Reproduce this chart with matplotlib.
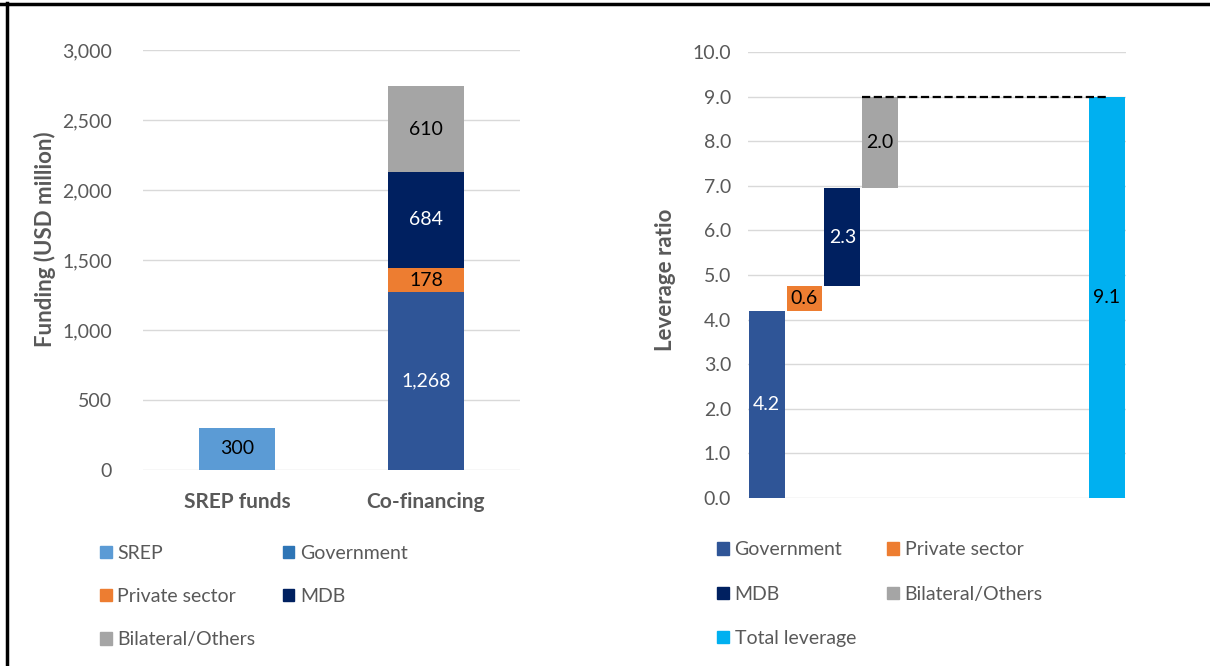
import matplotlib
matplotlib.use("Agg")
import matplotlib.pyplot as plt
from matplotlib.lines import Line2D
from matplotlib.patches import Patch

plt.rcParams['font.family'] = ['Lato', 'DejaVu Sans']

# left chart: funding (USD million)
categories = ["SREP funds", "Co-financing"]
srep = [300, 0]
government = [0, 1268]
private = [0, 178]
mdb = [0, 684]
bilateral = [0, 610]

# right chart: leverage ratio (heights as drawn, labels as printed)
lev_names = ["Government", "Private sector", "MDB", "Bilateral/Others", "Total leverage"]
lev_pos = [0, 1, 2, 3, 9]
lev_heights = [4.2, 0.55, 2.2, 2.05, 9.0]
lev_labels = ["4.2", "0.6", "2.3", "2.0", "9.1"]

c_srep = "#5B9BD5"
c_gov = "#2F5597"
c_priv = "#ED7D31"
c_mdb = "#002060"
c_bil = "#A5A5A5"
c_tot = "#00B0F0"
grey = "#595959"
grid = "#D9D9D9"

fig = plt.figure(figsize=(12.1, 6.66), dpi=100)

# ---- left panel
ax1 = fig.add_axes([0.118, 0.2943, 0.312, 0.6306])
x = [0, 1]
w = 0.4
ax1.bar(x, srep, w, color=c_srep, zorder=3)
b = [0, 0]
ax1.bar(x, government, w, bottom=b, color=c_gov, zorder=3)
b = [b[i] + government[i] for i in range(2)]
ax1.bar(x, private, w, bottom=b, color=c_priv, zorder=3)
b2 = [b[i] + private[i] for i in range(2)]
ax1.bar(x, mdb, w, bottom=b2, color=c_mdb, zorder=3)
b3 = [b2[i] + mdb[i] for i in range(2)]
ax1.bar(x, bilateral, w, bottom=b3, color=c_bil, zorder=3)

ax1.text(0, srep[0] / 2, f"{srep[0]:,}", ha="center", va="center", fontsize=14, color="black", zorder=4)
ax1.text(1, government[1] / 2, f"{government[1]:,}", ha="center", va="center", fontsize=14, color="white", zorder=4)
ax1.text(1, b[1] + private[1] / 2, f"{private[1]:,}", ha="center", va="center", fontsize=14, color="black", zorder=4)
ax1.text(1, b2[1] + mdb[1] / 2, f"{mdb[1]:,}", ha="center", va="center", fontsize=14, color="white", zorder=4)
ax1.text(1, b3[1] + bilateral[1] / 2, f"{bilateral[1]:,}", ha="center", va="center", fontsize=14, color="black", zorder=4)

ax1.set_xlim(-0.5, 1.5)
ax1.set_ylim(0, 3000)
ax1.set_yticks(range(0, 3001, 500))
ax1.set_yticklabels([f"{v:,}" for v in range(0, 3001, 500)])
ax1.set_xticks(x)
ax1.set_xticklabels(categories, fontweight="bold")
ax1.tick_params(axis="y", length=0, pad=22, labelsize=14, labelcolor=grey)
ax1.tick_params(axis="x", length=0, pad=16, labelsize=15, labelcolor=grey)
ax1.grid(axis="y", color=grid, lw=1, zorder=0)
for s in ax1.spines.values():
    s.set_visible(False)
ax1.set_ylabel("Funding (USD million)", fontsize=16, fontweight="bold", color=grey)
ax1.yaxis.set_label_coords(-0.23, 0.55)

h1 = [Patch(color=c_srep, label="SREP"), Patch(color=c_priv, label="Private sector"),
      Patch(color=c_bil, label="Bilateral/Others"), Patch(color="#2E75B6", label="Government"),
      Patch(color=c_mdb, label="MDB")]
fig.legend(handles=h1, loc="upper left", bbox_to_anchor=(0.0826, 0.182), ncol=2,
           frameon=False, fontsize=14, labelcolor=grey, handlelength=0.6, handleheight=0.6,
           handletextpad=0.3, labelspacing=1.35, columnspacing=1.4, borderpad=0, borderaxespad=0)

# ---- right panel
ax2 = fig.add_axes([0.618, 0.2523, 0.3124, 0.6697])
bottoms = [0]
for h in lev_heights[:3]:
    bottoms.append(bottoms[-1] + h)
bottoms.append(0)
colors = [c_gov, c_priv, c_mdb, c_bil, c_tot]
ax2.bar(lev_pos, lev_heights, 0.95, bottom=bottoms, color=colors, zorder=3)
label_col = ["white", "black", "white", "black", "black"]
for i in range(5):
    ax2.text(lev_pos[i], bottoms[i] + lev_heights[i] / 2, lev_labels[i], ha="center", va="center",
             fontsize=14, color=label_col[i], zorder=4)
# dashed connector at top of the last step
top = bottoms[3] + lev_heights[3]
ax2.plot([lev_pos[3] - 0.475, lev_pos[4]], [top, top], ls="--", color="black", lw=1.6, zorder=5)

ax2.set_xlim(-0.5, 9.5)
ax2.set_ylim(0, 10)
ax2.set_yticks(range(0, 11))
ax2.set_yticklabels([f"{v:.1f}" for v in range(0, 11)])
ax2.set_xticks([])
ax2.tick_params(axis="y", length=0, pad=12, labelsize=14, labelcolor=grey)
ax2.grid(axis="y", color=grid, lw=1, zorder=0)
for s in ax2.spines.values():
    s.set_visible(False)
ax2.set_ylabel("Leverage ratio", fontsize=16, fontweight="bold", color=grey)
ax2.yaxis.set_label_coords(-0.19, 0.49)

h2 = [Patch(color=c_gov, label=lev_names[0]), Patch(color=c_mdb, label=lev_names[2]),
      Patch(color=c_tot, label=lev_names[4]), Patch(color=c_priv, label=lev_names[1]),
      Patch(color=c_bil, label=lev_names[3])]
fig.legend(handles=h2, loc="upper left", bbox_to_anchor=(0.5926, 0.187), ncol=2,
           frameon=False, fontsize=14, labelcolor=grey, handlelength=0.6, handleheight=0.6,
           handletextpad=0.3, labelspacing=1.4, columnspacing=1.6, borderpad=0, borderaxespad=0)

# frame lines (top and left only)
fig.add_artist(Line2D([0, 1], [0.9945, 0.9945], transform=fig.transFigure, color="black", lw=2.5))
fig.add_artist(Line2D([0.0058, 0.0058], [0, 0.996], transform=fig.transFigure, color="black", lw=2.5))

fig.savefig("out.png", dpi=100)
